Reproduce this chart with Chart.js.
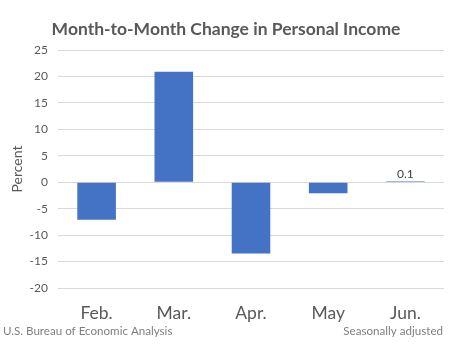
<!DOCTYPE html>
<html>
<head>
<meta charset="utf-8">
<script src="https://cdn.jsdelivr.net/npm/chart.js@4/dist/chart.umd.min.js"></script>
<style>
  html, body { margin: 0; padding: 0; background: #fff; }
  #wrap { width: 454px; height: 351px; position: relative; }
</style>
</head>
<body>
<div id="wrap"><canvas id="chart" width="454" height="351"></canvas></div>
<script>
// values
const months = ['Feb.', 'Mar.', 'Apr.', 'May', 'Jun.'];
const change = [-7.1, 20.9, -13.5, -2.1, 0.1];
const yMin = -20;
const yMax = 25;
const yStep = 5;

const titleText = 'Month-to-Month Change in Personal Income';
const sourceText = 'U.S. Bureau of Economic Analysis';
const noteText = 'Seasonally adjusted';

const FONT = 'Lato, "Liberation Sans", sans-serif';

// title, footer lines and the one data label (only Jun. is labelled)
const decorations = {
    id: 'decorations',
    afterDraw(chart) {
        const ctx = chart.ctx;
        ctx.save();
        ctx.fillStyle = '#595959';
        ctx.font = 'bold 17.5px ' + FONT;
        ctx.textAlign = 'center';
        ctx.textBaseline = 'middle';
        ctx.fillText(titleText, 226, 29);

        ctx.fillStyle = '#7f7f7f';
        ctx.font = '11.6px ' + FONT;
        ctx.textAlign = 'left';
        ctx.fillText(sourceText, 3, 331);
        ctx.textAlign = 'right';
        ctx.fillText(noteText, 443, 331);

        const meta = chart.getDatasetMeta(0);
        const last = meta.data[meta.data.length - 1];
        ctx.fillStyle = '#404040';
        ctx.font = '12px ' + FONT;
        ctx.textAlign = 'center';
        ctx.textBaseline = 'bottom';
        ctx.fillText(String(change[change.length - 1]), last.x, last.y - 1);
        ctx.restore();
    }
};

new Chart(document.getElementById('chart'), {
    type: 'bar',
    data: {
        labels: months,
        datasets: [{
            data: change,
            backgroundColor: '#4472c4',
            borderWidth: 0,
            minBarLength: 1,
            categoryPercentage: 1,
            barPercentage: 0.5
        }]
    },
    options: {
        responsive: false,
        animation: false,
        layout: { padding: { top: 50, right: 10, left: 0, bottom: 0 } },
        plugins: {
            legend: { display: false },
            tooltip: { enabled: false },
            title: { display: false }
        },
        scales: {
            x: {
                grid: { display: false },
                border: { display: false },
                ticks: { color: '#595959', font: { family: FONT, size: 17.5 }, padding: 7 },
                afterFit: (scale) => { scale.height = 63; }
            },
            y: {
                min: yMin,
                max: yMax,
                grid: { color: '#d9d9d9', drawTicks: false },
                border: { display: false },
                ticks: { stepSize: yStep, color: '#595959', font: { family: FONT, size: 12 }, padding: 10 },
                title: { display: true, text: 'Percent', color: '#595959', font: { family: FONT, size: 14 }, padding: { top: 9, bottom: 0 } },
                afterFit: (scale) => { scale.width = 58; }
            }
        }
    },
    plugins: [decorations]
});
</script>
</body>
</html>
